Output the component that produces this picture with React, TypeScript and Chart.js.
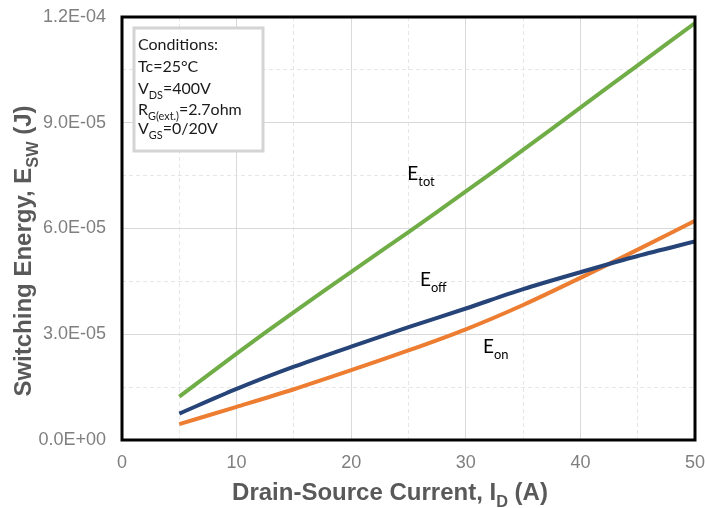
import React, { useEffect, useRef } from 'react';
import { Chart, registerables } from 'chart.js';

Chart.register(...registerables);

// drain-source current (A)
const currents = [5, 10, 15, 20, 25, 30, 35, 40, 45, 50];
// switching energies (J)
const eOn = [4.5e-6, 9.4e-6, 14.4e-6, 19.8e-6, 25.4e-6, 31.4e-6, 38.3e-6, 46.0e-6, 54.0e-6, 62.2e-6];
const eOff = [7.5e-6, 14.5e-6, 20.8e-6, 26.5e-6, 32.0e-6, 37.3e-6, 42.8e-6, 47.6e-6, 52.2e-6, 56.3e-6];
const eTot = [12.3e-6, 24.5e-6, 36.3e-6, 47.7e-6, 59.0e-6, 70.5e-6, 82.3e-6, 94.3e-6, 106.3e-6, 118.3e-6];

const xGrid = [0, 5, 10, 15, 20, 25, 30, 35, 40, 45, 50];
const xTickLabels = ['0', '10', '20', '30', '40', '50'];
const yGrid = [0, 1.5e-5, 3e-5, 4.5e-5, 6e-5, 7.5e-5, 9e-5, 10.5e-5, 12e-5];
const yTickLabels = ['0.0E+00', '3.0E-05', '6.0E-05', '9.0E-05', '1.2E-04'];

// curve labels: [main, subscript, x (A), y (J)]
const curveLabels: [string, string, number, number][] = [
  ['E', 'tot', 24.9, 73.8e-6],
  ['E', 'off', 26.0, 43.7e-6],
  ['E', 'on', 31.5, 24.7e-6],
];

type Run = { t: string; sub?: boolean };
const conditions: Run[][] = [
  [{ t: 'Conditions:' }],
  [{ t: 'Tc=25°C' }],
  [{ t: 'V' }, { t: 'DS', sub: true }, { t: '=400V' }],
  [{ t: 'R' }, { t: 'G(ext.)', sub: true }, { t: '=2.7ohm' }],
  [{ t: 'V' }, { t: 'GS', sub: true }, { t: '=0/20V' }],
];

const AXIS_FONT = '"Liberation Sans", Arial, sans-serif';
const NOTE_FONT = 'Lato, "Open Sans", sans-serif';

function richWidth(ctx: CanvasRenderingContext2D, runs: Run[], size: number, family: string, weight: string) {
  let w = 0;
  for (const r of runs) {
    ctx.font = `${weight} ${r.sub ? size * 0.68 : size}px ${family}`;
    w += ctx.measureText(r.t).width;
  }
  return w;
}

function drawRich(ctx: CanvasRenderingContext2D, runs: Run[], x: number, y: number, size: number, family: string, weight: string, color: string) {
  let cx = x;
  ctx.fillStyle = color;
  ctx.textAlign = 'left';
  ctx.textBaseline = 'alphabetic';
  for (const r of runs) {
    ctx.font = `${weight} ${r.sub ? size * 0.68 : size}px ${family}`;
    ctx.fillText(r.t, cx, r.sub ? y + size * 0.3 : y);
    cx += ctx.measureText(r.t).width;
  }
}

const decorPlugin = {
  id: 'decor',
  afterDraw(chart: Chart) {
    const { ctx, chartArea: a, scales } = chart;
    const xs = scales.x;
    const ys = scales.y;
    ctx.save();

    // plot frame
    ctx.strokeStyle = '#000';
    ctx.lineWidth = 3;
    ctx.strokeRect(a.left, a.top, a.right - a.left, a.bottom - a.top);

    // curve labels
    for (const [main, sub, vx, vy] of curveLabels) {
      drawRich(ctx, [{ t: main }, { t: sub, sub: true }], xs.getPixelForValue(vx), ys.getPixelForValue(vy), 19, NOTE_FONT, 'normal', '#000');
    }

    // conditions box
    const bx = a.left + 12;
    const by = a.top + 11;
    ctx.fillStyle = '#fff';
    ctx.fillRect(bx, by, 129, 123);
    ctx.strokeStyle = '#d4d4d4';
    ctx.lineWidth = 3;
    ctx.strokeRect(bx, by, 129, 123);
    const baselines = [22, 44, 66, 87, 106];
    conditions.forEach((line, i) => {
      drawRich(ctx, line, bx + 4, by + baselines[i], 16, NOTE_FONT, 'normal', '#1a1a1a');
    });

    // axis titles
    const titleSize = 24;
    const xTitle: Run[] = [{ t: 'Drain-Source Current, I' }, { t: 'D', sub: true }, { t: ' (A)' }];
    const xw = richWidth(ctx, xTitle, titleSize, AXIS_FONT, 'bold');
    drawRich(ctx, xTitle, 390 - xw / 2, 500, titleSize, AXIS_FONT, 'bold', '#595959');

    const yTitle: Run[] = [{ t: 'Switching Energy, E' }, { t: 'SW', sub: true }, { t: ' (J)' }];
    const yw = richWidth(ctx, yTitle, titleSize, AXIS_FONT, 'bold');
    ctx.translate(31, 251);
    ctx.rotate(-Math.PI / 2);
    drawRich(ctx, yTitle, -yw / 2, 0, titleSize, AXIS_FONT, 'bold', '#595959');

    ctx.restore();
  },
};

const App: React.FC = () => {
  const canvasRef = useRef<HTMLCanvasElement | null>(null);
  const chartRef = useRef<Chart | null>(null);

  useEffect(() => {
    document.body.style.margin = '0';
    if (!canvasRef.current) return;
    if (chartRef.current) chartRef.current.destroy();

    const series = (vals: number[]) => currents.map((c, i) => ({ x: c, y: vals[i] }));

    chartRef.current = new Chart(canvasRef.current, {
      type: 'line',
      data: {
        datasets: [
          { label: 'Etot', data: series(eTot), borderColor: '#70AD47', borderWidth: 4, pointRadius: 0, tension: 0.3, fill: false },
          { label: 'Eoff', data: series(eOff), borderColor: '#264478', borderWidth: 4, pointRadius: 0, tension: 0.3, fill: false },
          { label: 'Eon', data: series(eOn), borderColor: '#ED7D31', borderWidth: 4, pointRadius: 0, tension: 0.3, fill: false },
        ],
      },
      options: {
        responsive: false,
        animation: false,
        devicePixelRatio: 1,
        layout: { padding: { top: 17, right: 10, left: 0, bottom: 0 } },
        plugins: {
          legend: { display: false },
          tooltip: { enabled: false },
        },
        scales: {
          x: {
            type: 'linear',
            min: 0,
            max: 50,
            afterBuildTicks: (scale: any) => {
              scale.ticks = xGrid.map(v => ({ value: v }));
            },
            afterFit: (scale: any) => {
              scale.height = 68;
              scale.paddingLeft = 0;
              scale.paddingRight = 0;
            },
            ticks: {
              autoSkip: false,
              maxRotation: 0,
              padding: 12,
              color: '#7f7f7f',
              font: { family: AXIS_FONT, size: 18 },
              callback: (_v: any, i: number) => (i % 2 === 0 ? xTickLabels[i / 2] : ''),
            },
            grid: {
              drawTicks: false,
              color: (c: any) => (c.index % 2 === 0 ? '#d9d9d9' : '#e6e6e6'),
            },
            border: {
              display: false,
              dash: (c: any) => (c.index % 2 === 0 ? [] : [4, 3]),
            },
          },
          y: {
            type: 'linear',
            min: 0,
            max: 1.2e-4,
            afterBuildTicks: (scale: any) => {
              scale.ticks = yGrid.map(v => ({ value: v }));
            },
            afterFit: (scale: any) => {
              scale.width = 122;
              scale.paddingTop = 0;
              scale.paddingBottom = 0;
            },
            ticks: {
              autoSkip: false,
              padding: 16,
              color: '#7f7f7f',
              font: { family: AXIS_FONT, size: 18 },
              callback: (_v: any, i: number) => (i % 2 === 0 ? yTickLabels[i / 2] : ''),
            },
            grid: {
              drawTicks: false,
              color: (c: any) => (c.index % 2 === 0 ? '#d9d9d9' : '#e6e6e6'),
            },
            border: {
              display: false,
              dash: (c: any) => (c.index % 2 === 0 ? [] : [4, 3]),
            },
          },
        },
      },
      plugins: [decorPlugin],
    });

    return () => {
      if (chartRef.current) {
        chartRef.current.destroy();
        chartRef.current = null;
      }
    };
  }, []);

  return (
    <div style={{ width: 705, height: 508, background: '#fff' }}>
      <canvas ref={canvasRef} width={705} height={508}></canvas>
    </div>
  );
};

export default App;
